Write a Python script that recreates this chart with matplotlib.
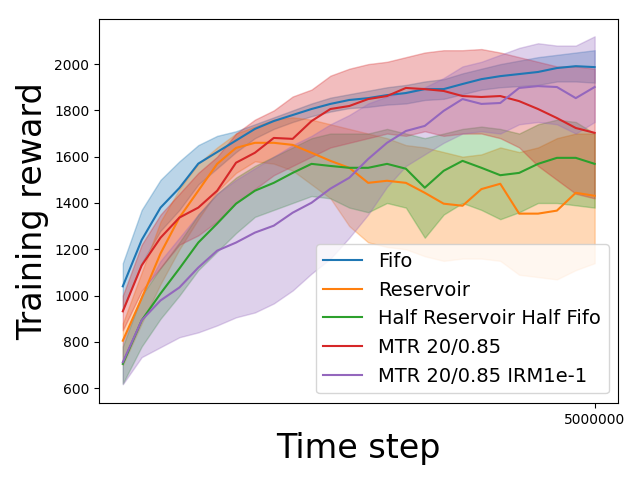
import numpy as np
import matplotlib
matplotlib.use("Agg")
import matplotlib.pyplot as plt

steps = np.arange(26) * 200000

labels = ["Fifo", "Reservoir", "Half Reservoir Half Fifo", "MTR 20/0.85",
          "MTR 20/0.85 IRM1e-1"]

fifo_mean = [1040, 1240, 1380, 1465, 1570, 1620, 1670, 1720, 1754, 1780, 1806, 1828, 1845,
             1853, 1866, 1875, 1892, 1892, 1914, 1935, 1948, 1957, 1966, 1983, 1991, 1987]
fifo_hi = [1140, 1370, 1500, 1580, 1650, 1690, 1710, 1740, 1770, 1800, 1830, 1855, 1870,
           1885, 1900, 1910, 1925, 1935, 1960, 1980, 2000, 2015, 2030, 2040, 2050, 2060]
fifo_lo = [940, 1140, 1280, 1370, 1480, 1550, 1620, 1680, 1720, 1750, 1775, 1795, 1810,
           1815, 1825, 1830, 1845, 1850, 1870, 1890, 1900, 1905, 1910, 1925, 1925, 1920]

res_mean = [805, 988, 1182, 1337, 1453, 1569, 1638, 1660, 1660, 1651, 1617, 1582, 1552,
            1487, 1496, 1487, 1444, 1397, 1388, 1460, 1483, 1354, 1354, 1367, 1444, 1431]
res_hi = [880, 1100, 1320, 1460, 1570, 1640, 1700, 1730, 1760, 1770, 1760, 1740, 1720,
          1700, 1680, 1650, 1640, 1620, 1600, 1610, 1640, 1620, 1640, 1680, 1700, 1700]
res_lo = [700, 880, 1050, 1200, 1330, 1450, 1530, 1580, 1570, 1540, 1480, 1420, 1300,
          1230, 1210, 1200, 1170, 1150, 1160, 1160, 1150, 1090, 1080, 1070, 1110, 1140]

half_mean = [705, 893, 1009, 1117, 1229, 1311, 1397, 1453, 1487, 1530, 1569, 1560, 1552,
             1552, 1569, 1548, 1466, 1539, 1582, 1552, 1520, 1530, 1569, 1595, 1595, 1569]
half_hi = [780, 1000, 1120, 1230, 1350, 1440, 1510, 1560, 1600, 1640, 1680, 1700, 1700,
           1700, 1720, 1700, 1680, 1700, 1720, 1730, 1720, 1700, 1740, 1760, 1750, 1700]
half_lo = [620, 780, 900, 1000, 1110, 1190, 1270, 1340, 1370, 1400, 1430, 1420, 1380,
           1360, 1400, 1380, 1250, 1350, 1400, 1370, 1330, 1360, 1400, 1400, 1390, 1380]

mtr_mean = [932, 1130, 1250, 1337, 1380, 1453, 1574, 1617, 1681, 1677, 1754, 1806, 1819,
            1849, 1862, 1897, 1892, 1884, 1862, 1858, 1862, 1840, 1806, 1767, 1724, 1703]
mtr_hi = [1000, 1220, 1350, 1440, 1530, 1600, 1700, 1760, 1800, 1860, 1890, 1950, 1980,
          2000, 2010, 2030, 2050, 2060, 2060, 2065, 2050, 2030, 2010, 1990, 1990, 1980]
mtr_lo = [850, 1020, 1120, 1220, 1260, 1320, 1400, 1460, 1520, 1560, 1600, 1640, 1660,
          1680, 1700, 1690, 1710, 1690, 1700, 1700, 1680, 1640, 1560, 1500, 1440, 1420]

irm_mean = [712, 893, 979, 1035, 1121, 1194, 1229, 1272, 1302, 1358, 1401, 1462, 1509,
            1590, 1660, 1711, 1733, 1798, 1849, 1828, 1832, 1897, 1905, 1901, 1853, 1901]
irm_hi = [800, 1000, 1150, 1250, 1350, 1440, 1500, 1550, 1600, 1650, 1690, 1740, 1780,
          1830, 1860, 1880, 1900, 1940, 1990, 2010, 2040, 2070, 2090, 2080, 2080, 2120]
irm_lo = [617, 734, 777, 820, 841, 871, 906, 927, 966, 1022, 1095, 1160, 1250,
          1350, 1470, 1560, 1610, 1660, 1700, 1710, 1700, 1740, 1750, 1740, 1700, 1750]

series = [(fifo_mean, fifo_lo, fifo_hi), (res_mean, res_lo, res_hi),
          (half_mean, half_lo, half_hi), (mtr_mean, mtr_lo, mtr_hi),
          (irm_mean, irm_lo, irm_hi)]

fig, ax = plt.subplots(figsize=(6.4, 4.8), dpi=100)
for i, (name, (m, lo, hi)) in enumerate(zip(labels, series)):
    c = "C%d" % i
    ax.plot(steps, m, color=c, label=name)
    ax.fill_between(steps, lo, hi, color=c, alpha=0.3)

ax.set_ylim(535, 2194)
ax.set_xticks([5000000])
ax.set_xticklabels(["5000000"])
ax.set_xlabel("Time step", fontsize=24)
ax.set_ylabel("Training reward", fontsize=24)
ax.legend(loc="lower right", fontsize=14)

plt.subplots_adjust(left=0.155, right=0.966, top=0.96, bottom=0.16)
plt.savefig("out.png")
